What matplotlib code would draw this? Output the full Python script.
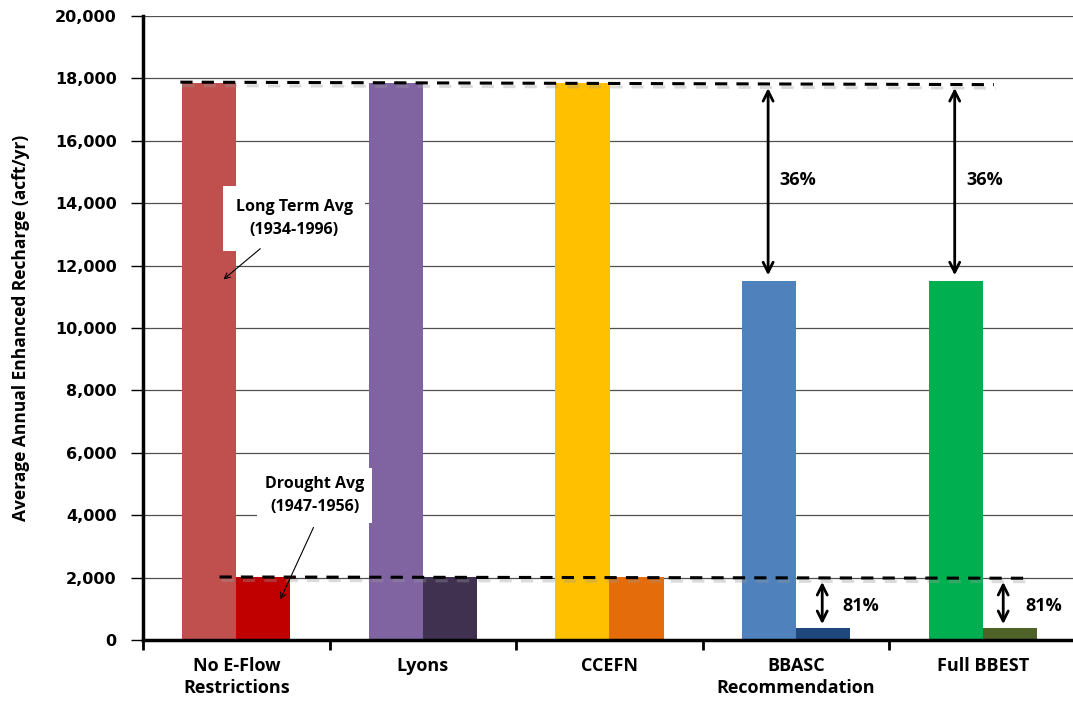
import matplotlib
matplotlib.use("Agg")
import matplotlib.pyplot as plt
import matplotlib.patheffects as pe
import numpy as np

categories = ["No E-Flow\nRestrictions", "Lyons", "CCEFN", "BBASC\nRecommendation", "Full BBEST"]
long_term = [17850, 17850, 17850, 11500, 11500]
drought = [2020, 2020, 2020, 380, 380]
long_colors = ["#C0504D", "#8064A2", "#FFC000", "#4F81BD", "#00B050"]
drought_colors = ["#C00000", "#403151", "#E46C0A", "#1F497D", "#4F6228"]
yticks = [0, 2000, 4000, 6000, 8000, 10000, 12000, 14000, 16000, 18000, 20000]
pct_long = "36%"
pct_drought = "81%"

FONT = "Open Sans"

W, H = 1073, 709
fig = plt.figure(figsize=(W / 100, H / 100), dpi=100)
ax = fig.add_axes([143 / W, (H - 640) / H, (1076 - 143) / W, (640 - 16) / H])

x = np.arange(len(categories))
bw = 0.29
ax.bar(x - bw / 2, long_term, width=bw, color=long_colors, zorder=2)
ax.bar(x + bw / 2, drought, width=bw, color=drought_colors, zorder=2)

ax.set_xlim(-0.5, 4.5)
ax.set_ylim(0, 20000)
ax.set_yticks(yticks)
ax.set_yticklabels([f"{v:,}" for v in yticks], fontfamily="DejaVu Sans",
                   fontweight="bold", fontsize=11.5)
ax.yaxis.grid(True, color="#505050", linewidth=0.9, zorder=0)
ax.set_axisbelow(True)

ax.set_xticks(x)
ax.set_xticklabels(categories, fontfamily=FONT, fontweight="bold", fontsize=13,
                   linespacing=1.3)
ax.tick_params(axis="x", length=0, pad=12)
ax.set_xticks(np.arange(-0.5, 4.6, 1), minor=True)
ax.tick_params(axis="x", which="minor", length=7, width=2, direction="out")
ax.tick_params(axis="y", length=9, width=1, direction="out", pad=10)

for s in ["top", "right"]:
    ax.spines[s].set_visible(False)
ax.spines["left"].set_linewidth(2.5)
ax.spines["bottom"].set_linewidth(2.5)

ax.set_ylabel("Average Annual Enhanced Recharge (acft/yr)", fontfamily=FONT,
              fontweight="bold", fontsize=12.5, labelpad=18)

shadow = [pe.SimpleLineShadow(offset=(1.5, -2.5), shadow_color="#999999", alpha=0.35), pe.Normal()]
ax.plot([-0.30, 4.06], [17880, 17800], ls=(0, (4, 3)), color="black", lw=2.2,
        zorder=4, path_effects=shadow)
ax.plot([-0.09, 4.22], [2020, 1980], ls=(0, (4, 3)), color="black", lw=2.2,
        zorder=4, path_effects=shadow)

# Text boxes
ax.text(0.31, 13520, "Long Term Avg\n(1934-1996)", ha="center", va="center",
        fontfamily=FONT, fontweight="bold", fontsize=11.5, linespacing=1.6, zorder=5,
        bbox=dict(boxstyle="square,pad=0.8", fc="white", ec="none"))
ax.annotate("", xy=(-0.08, 11500), xytext=(0.14, 12600),
            arrowprops=dict(arrowstyle="->", color="black", lw=0.8), zorder=6)
ax.text(0.42, 4620, "Drought Avg\n(1947-1956)", ha="center", va="center",
        fontfamily=FONT, fontweight="bold", fontsize=11.5, linespacing=1.6, zorder=5,
        bbox=dict(boxstyle="square,pad=0.5", fc="white", ec="none"))
ax.annotate("", xy=(0.23, 1220), xytext=(0.42, 3690),
            arrowprops=dict(arrowstyle="->", color="black", lw=0.8), zorder=6)

# Double arrows
for xa, xt in [(2.85, 2.91), (3.85, 3.91)]:
    ax.annotate("", xy=(xa, 11600), xytext=(xa, 17780),
                arrowprops=dict(arrowstyle="<->", color="black", lw=2,
                                mutation_scale=18), zorder=6)
    ax.text(xt, 14750, pct_long, ha="left", va="center", fontfamily=FONT,
            fontweight="bold", fontsize=13, zorder=6)
for xa, xt in [(3.14, 3.25), (4.11, 4.23)]:
    ax.annotate("", xy=(xa, 420), xytext=(xa, 1950),
                arrowprops=dict(arrowstyle="<->", color="black", lw=2,
                                mutation_scale=18), zorder=6)
    ax.text(xt, 1100, pct_drought, ha="left", va="center", fontfamily=FONT,
            fontweight="bold", fontsize=13, zorder=6)

fig.savefig("out.png", dpi=100)
